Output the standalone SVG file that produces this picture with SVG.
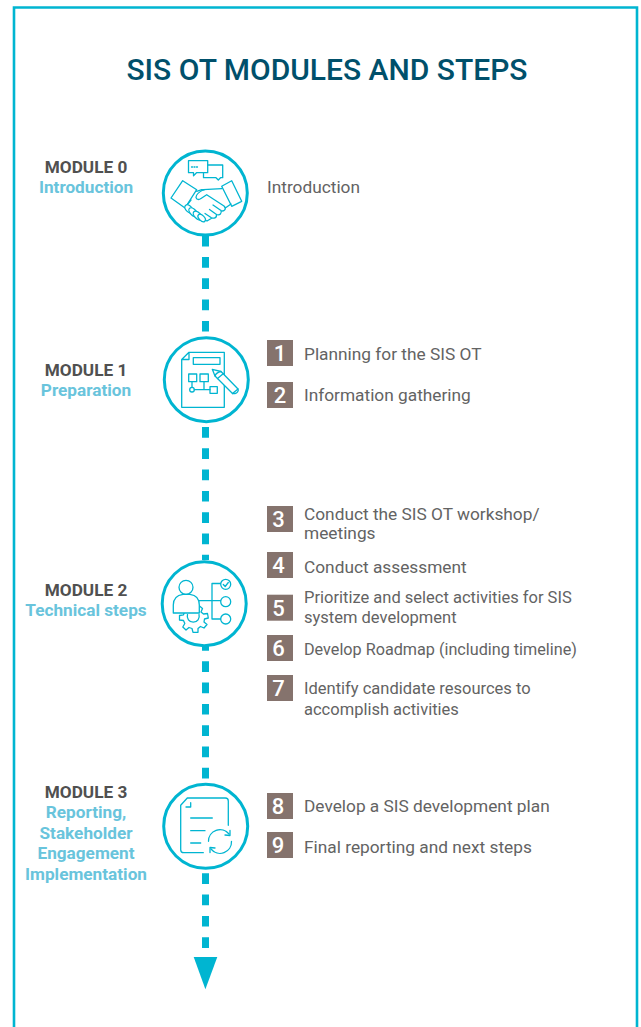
<svg xmlns="http://www.w3.org/2000/svg" width="641" height="1027" viewBox="0 0 641 1027">
<style>
text{font-family:Roboto,"Liberation Sans",sans-serif}
.title{font-size:30px;font-weight:500;fill:#00506b;text-anchor:middle}
.m{font-size:17.200px;font-weight:700;fill:#505050;text-anchor:middle}
.s{font-size:17.200px;font-weight:700;fill:#69c4dc;text-anchor:middle}
.b{font-size:17.300px;fill:#636363}
.c{font-size:16.500px;fill:#636363}
.r{font-size:16.200px;fill:#636363}
.n{font-size:22px;font-weight:500;fill:#fff;text-anchor:middle}
.badge{fill:#85736d}
.ring{fill:#fff;stroke:#00b5d1;stroke-width:3}
.i{fill:none;stroke:#00b5d1;stroke-width:1.300;stroke-linejoin:round;stroke-linecap:round}
.f{fill:#fff;stroke:#00b5d1;stroke-width:1.300;stroke-linejoin:round}
.d{stroke:#00b5d1;stroke-width:7;fill:none;stroke-dasharray:10.7 10.6}
</style>
<rect width="641" height="1027" fill="#fff"/>
<path d="M14 1027V7.500H637V1027" fill="none" stroke="#00b5d1" stroke-width="2.600"/>
<text class="title" x="327" y="80">SIS OT MODULES AND STEPS</text>
<g id="connectors">
<path class="d" d="M205.500 235.700V337"/>
<path class="d" d="M205.500 427V560"/>
<path class="d" d="M205.500 640V784"/>
<path class="d" d="M205.500 873.300V950"/>
<polygon points="193.700,957 217.300,957 205.400,989.300" fill="#00b5d1"/>
</g>
<g id="module0">
<circle class="ring" cx="205.300" cy="193" r="42"/>
<path class="i" d="M188.500 160.700H207.700V172.700H196.500L193.500 175.700V172.700H188.500Z"/>
<path class="i" d="M207.700 165H222.700V177.700H220.500L218.300 180L216 177.700H203.500V172.700"/>
<path class="i" d="M191.500 167h1M194 167h1M196.500 167h1"/>
<path class="f" d="M182.700 180.700L196.700 189.700L185 208L171 198Z"/>
<path class="f" d="M231.700 180.700L241.700 201.300L231.700 206.300L221.700 186.300Z"/>
<path class="i" d="M196.700 191.300L201.700 189.700L204 190M191 200L187 205"/>
<path class="i" d="M221.700 188.700L203.300 189.700C199 192 196 195 196 197.300C196.500 200 199 200 201 198.500L206.700 194.700L224 206C227 209 224 212 221 210.500L213 205M221 210.500C222 213 220 216 216.500 214.500L209.500 209.500M216.500 214.500C217 218 213.500 219 211 217.500L205 213.500M212 218L207 221L203 219M226 207.500L231 204"/>
<g class="f"><ellipse cx="189" cy="209" rx="3" ry="5" transform="rotate(-45 189 209)"/><ellipse cx="193.300" cy="212.300" rx="3" ry="5.500" transform="rotate(-45 193.300 212.300)"/><ellipse cx="197.700" cy="215.700" rx="3" ry="5.500" transform="rotate(-45 197.700 215.700)"/><ellipse cx="201.700" cy="218" rx="2.600" ry="4.500" transform="rotate(-45 201.700 218)"/></g>
<text class="m" x="86" y="173">MODULE 0</text>
<text class="s" x="86" y="193">Introduction</text>
<text class="b" x="267" y="192.500">Introduction</text>
</g>
<g id="module1">
<circle class="ring" cx="206.300" cy="379.700" r="42"/>
<path class="i" d="M189 352.300H224.300V407.300H181.700V359.500ZM189 352.300V359.500H181.700"/>
<rect class="i" x="193.300" y="357.700" width="26.700" height="6.600"/>
<rect class="i" x="188.700" y="374" width="8" height="7.700"/>
<rect class="i" x="200" y="374" width="8.300" height="7.700"/>
<rect class="i" x="210" y="386.700" width="7.300" height="6.600"/>
<circle class="i" cx="192" cy="389.700" r="2.300"/>
<path class="i" d="M192 381.700V387.400M194.300 389.700H210M204 381.700V389.700"/>
<path class="f" d="M212.300 369.300L221 371.500L238 389C239 391 237 393 235 393.500L232.500 393.500L215 376Z"/>
<path class="i" d="M215 376C216 373 218 372 221 371.500M217.500 378.500L223.500 373.500M232.500 393.500L238 389"/>
<text class="m" x="86" y="375.700">MODULE 1</text>
<text class="s" x="86" y="396">Preparation</text>
</g>
<g id="step1"><rect class="badge" x="267" y="340" width="26" height="26"/><text class="n" x="280" y="361">1</text><text class="b" x="304" y="359.500">Planning for the SIS OT</text></g>
<g id="step2"><rect class="badge" x="267" y="382" width="26" height="26"/><text class="n" x="280" y="403">2</text><text class="b" x="304" y="400.500">Information gathering</text></g>
<g id="module2">
<circle class="ring" cx="204.200" cy="603.700" r="42"/>
<path class="f" d="M191.500 604L195 604L196 607.500L199.500 606L202.500 608.500L201 612L203.500 614L207.500 613.500L208.300 618L204.500 619L204 622L207 624.500L204 628L200.500 626.500L198 628.500L198 632.300H193L192 628.500L189 627.500L186 630L182.800 627L184.800 623.500L183.500 620.500L179.500 620V615.500L183.500 614.800L184.500 612L182 608.500L185 605.800L188.500 607.500L191 606Z"/>
<path class="i" d="M187.500 614.500A6 6 0 1 0 199 614.500"/>
<path class="f" d="M173.300 613V605C173.300 598 178 595 183 594.300H190C196 595 199.300 598 199.300 605V613Z"/>
<circle class="i" cx="186" cy="587.300" r="7"/>
<path class="i" d="M199.300 600.700H220.500M212 583.500V619H220.500M212 583.500H220.500"/>
<circle class="i" cx="225.700" cy="584.300" r="5"/><circle class="i" cx="225.700" cy="601.700" r="5"/><circle class="i" cx="225.700" cy="619" r="5"/>
<path class="i" d="M223.300 584.500L225.200 586.500L228.300 582.500"/>
<text class="m" x="86" y="596">MODULE 2</text>
<text class="s" x="86" y="616">Technical steps</text>
</g>
<g id="step3"><rect class="badge" x="267" y="506" width="26" height="26"/><text class="n" x="278.500" y="527">3</text><text class="b" x="304" y="520">Conduct the SIS OT workshop/</text><text class="b" x="304" y="538.500">meetings</text></g>
<g id="step4"><rect class="badge" x="267" y="552" width="26" height="26"/><text class="n" x="278.500" y="573">4</text><text class="b" x="304" y="572.500">Conduct assessment</text></g>
<g id="step5"><rect class="badge" x="267" y="594.700" width="26" height="26"/><text class="n" x="278.500" y="616">5</text><text class="c" x="304" y="603">Prioritize and select activities for SIS</text><text class="c" x="304" y="623">system development</text></g>
<g id="step6"><rect class="badge" x="267" y="635" width="26" height="26"/><text class="n" x="278.500" y="656">6</text><text class="r" x="304" y="655">Develop Roadmap (including timeline)</text></g>
<g id="step7"><rect class="badge" x="267" y="675" width="26" height="26"/><text class="n" x="278.500" y="696">7</text><text class="c" x="304" y="694">Identify candidate resources to</text><text class="c" x="304" y="715">accomplish activities</text></g>
<g id="module3">
<circle class="ring" cx="205.700" cy="826.300" r="42"/>
<path class="i" d="M203.300 852.700H183.700Q180.700 852.700 180.700 849.700V805.300L187.300 798H225.300Q228.300 798 228.300 801V825.300"/>
<path class="i" d="M190.700 802.700V807H186"/>
<path class="i" d="M190.700 818H212.300M190.700 830.700H205M190.700 843H200.700"/>
<path class="i" d="M208.500 841.300A11.500 11.500 0 0 1 229 834M231.500 841.300A11.500 11.500 0 0 1 211 849"/>
<path class="i" d="M225 835L230 835.500L230 830.500M215 848L210 847.500L210 852.500"/>
<text class="m" x="86" y="797.700">MODULE 3</text>
<text class="s" x="86" y="817.700">Reporting,</text>
<text class="s" x="86" y="838.500">Stakeholder</text>
<text class="s" x="86" y="859">Engagement</text>
<text class="s" x="86" y="879.600">Implementation</text>
</g>
<g id="step8"><rect class="badge" x="267" y="793" width="26" height="26"/><text class="n" x="278" y="814">8</text><text class="b" x="304" y="811.500">Develop a SIS development plan</text></g>
<g id="step9"><rect class="badge" x="267" y="832" width="26" height="26"/><text class="n" x="278" y="853">9</text><text class="b" x="304" y="853">Final reporting and next steps</text></g>
</svg>
